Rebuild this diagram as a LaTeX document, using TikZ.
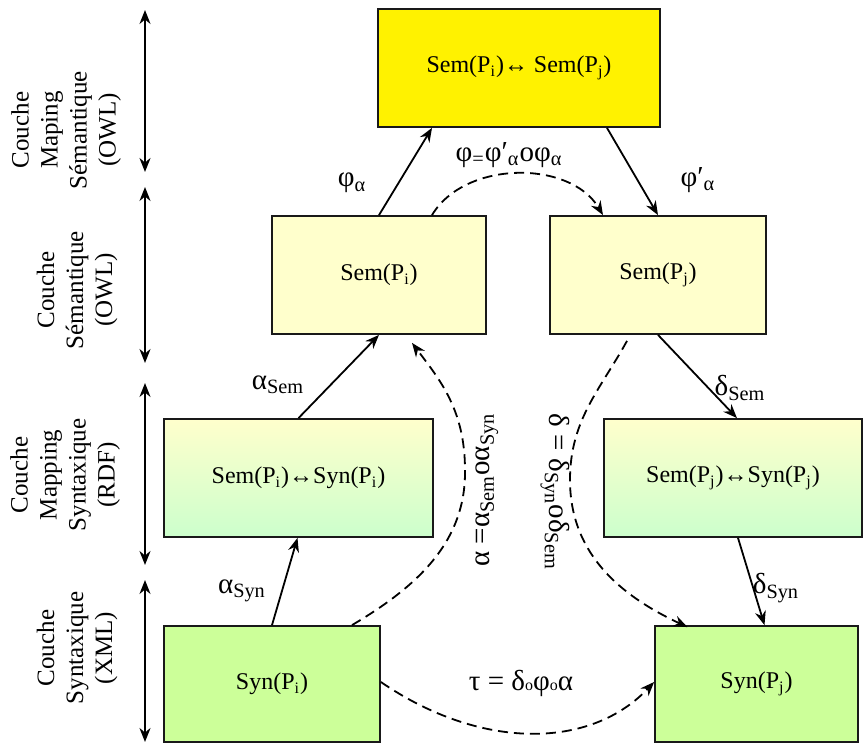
\documentclass[tikz,border=0pt]{standalone}
\usepackage{fontspec}
\setmainfont{Liberation Serif}
\usepackage{tikz}
\usetikzlibrary{arrows.meta,calc}
\definecolor{semyellow}{HTML}{FFFFCC}
\definecolor{mapgreen}{HTML}{CCFFCC}
\definecolor{syngreen}{HTML}{CCFF99}

\begin{document}
\begin{tikzpicture}[
  x=0.5pt, y=-0.5pt,
  font=\fontsize{12}{14.5}\selectfont,
  box/.style={draw=black!90, line width=0.9pt, inner sep=0pt},
  topbox/.style={box, fill=yellow, minimum width=141pt, minimum height=59pt},
  sembox/.style={box, fill=semyellow, minimum height=59pt},
  mapbox/.style={box, top color=semyellow, bottom color=mapgreen, minimum height=59pt},
  synbox/.style={box, fill=syngreen, minimum height=58pt},
  layer/.style={rotate=90, align=center, font=\fontsize{12.5}{14.5}\selectfont},
  greek/.style={font=\fontsize{14.5}{16}\selectfont},
  ar/.style={-{Stealth[length=7pt,width=5.5pt]}, line width=0.9pt},
  dar/.style={ar, dash pattern=on 5pt off 3pt},
  side/.style={{Stealth[length=7pt,width=5.5pt]}-{Stealth[length=7pt,width=5.5pt]}, line width=0.9pt}
]
\useasboundingbox (0,0) rectangle (864,745);

% boxes
\node[topbox] (top) at (519,68) {Sem(P\textsubscript{i})↔ Sem(P\textsubscript{j})};
\node[sembox, minimum width=107pt] (semi) at (379,275) {Sem(P\textsubscript{i})};
\node[sembox, minimum width=108pt] (semj) at (658,275) {Sem(P\textsubscript{j})};
\node[mapbox, minimum width=134.5pt] (mapi) at (298.5,478) {Sem(P\textsubscript{i})↔Syn(P\textsubscript{i})};
\node[mapbox, minimum width=129pt] (mapj) at (733,478) {Sem(P\textsubscript{j})↔Syn(P\textsubscript{j})};
\node[synbox, minimum width=108pt] (syni) at (272,684) {Syn(P\textsubscript{i})};
\node[synbox, minimum width=101.5pt] (synj) at (756.5,684) {Syn(P\textsubscript{j})};

% layers on the left
\node[layer] (lmapsem) at (66,130) {Couche\\Maping\\Sémantique\\(OWL)};
\node[layer] (lsem) at (77,290) {Couche\\Sémantique\\(OWL)};
\node[layer] (lmapsyn) at (65,475) {Couche\\Mapping\\Syntaxique\\(RDF)};
\node[layer] (lsyn) at (77,648) {Couche\\Syntaxique\\(XML)};
\coordinate (s1a) at (145,10);  \coordinate (s1b) at (145,172);
\coordinate (s2a) at (145,187); \coordinate (s2b) at (145,363);
\coordinate (s3a) at (145,383); \coordinate (s3b) at (145,565);
\coordinate (s4a) at (145,580); \coordinate (s4b) at (145,742);
\draw[side] (s1a) -- (s1b);
\draw[side] (s2a) -- (s2b);
\draw[side] (s3a) -- (s3b);
\draw[side] (s4a) -- (s4b);

% plain arrows
\draw[ar] (semi.north) -- ($(top.south)+(-87,0)$);
\draw[ar] ($(top.south)+(88,0)$) -- (semj.north);
\draw[ar] (mapi.north) -- (semi.south);
\draw[ar] (syni.north) -- ($(mapi.south)+(-1,0)$);
\draw[ar] (semj.south) -- ($(mapj.north)+(4,0)$);
\draw[ar] ($(mapj.south)+(5,0)$) -- ($(synj.north)+(8,0)$);
\node[greek] (phia) at (352,183) {φ\textsubscript{α}};
\node[greek] (phipa) at (698,180) {φ′\textsubscript{α}};
\node[greek] (asem) at (278,385) {α\textsubscript{Sem}};
\node[greek] (asyn) at (242,591) {α\textsubscript{Syn}};
\node[greek] (dsem) at (740,388) {δ\textsubscript{Sem}};
\node[greek] (dsyn) at (776,588) {δ\textsubscript{Syn}};

% dashed compositions
\draw[dar] ($(semi.north)+(53,0)$) .. controls (465,160) and (570,160) .. ($(semj.north)+(-55,0)$);
\node[greek] (phi) at (509,155) {φ\textsubscript{=}φ′\textsubscript{α}oφ\textsubscript{α}};
\coordinate (abend) at (465,470);
\draw[dar] ($(syni.north)+(80,0)$) .. controls (420,585) and (466,540) .. (abend)
  .. controls (465,410) and (440,380) .. ($(semi.south)+(33,8)$);
\node[greek, rotate=90] (alpha) at (487,490) {α =α\textsubscript{Sem}oα\textsubscript{Syn}};
\coordinate (dbend) at (570,480);
\draw[dar] ($(semj.south)+(-31,6)$) .. controls (600,390) and (570,420) .. (dbend)
  .. controls (570,560) and (630,600) .. ($(synj.north)+(-69,2)$);
\node[greek, rotate=-90] (delta) at (555,492) {δ = δ\textsubscript{Syn}oδ\textsubscript{Sem}};
\draw[dar] ($(syni.east)+(0,-2)$) .. controls (480,750) and (590,750) .. ($(synj.west)+(0,-2)$);
\node[greek] (tau) at (521,683) {τ = δ{\footnotesize o}φ{\footnotesize o}α};
\end{tikzpicture}
\end{document}
